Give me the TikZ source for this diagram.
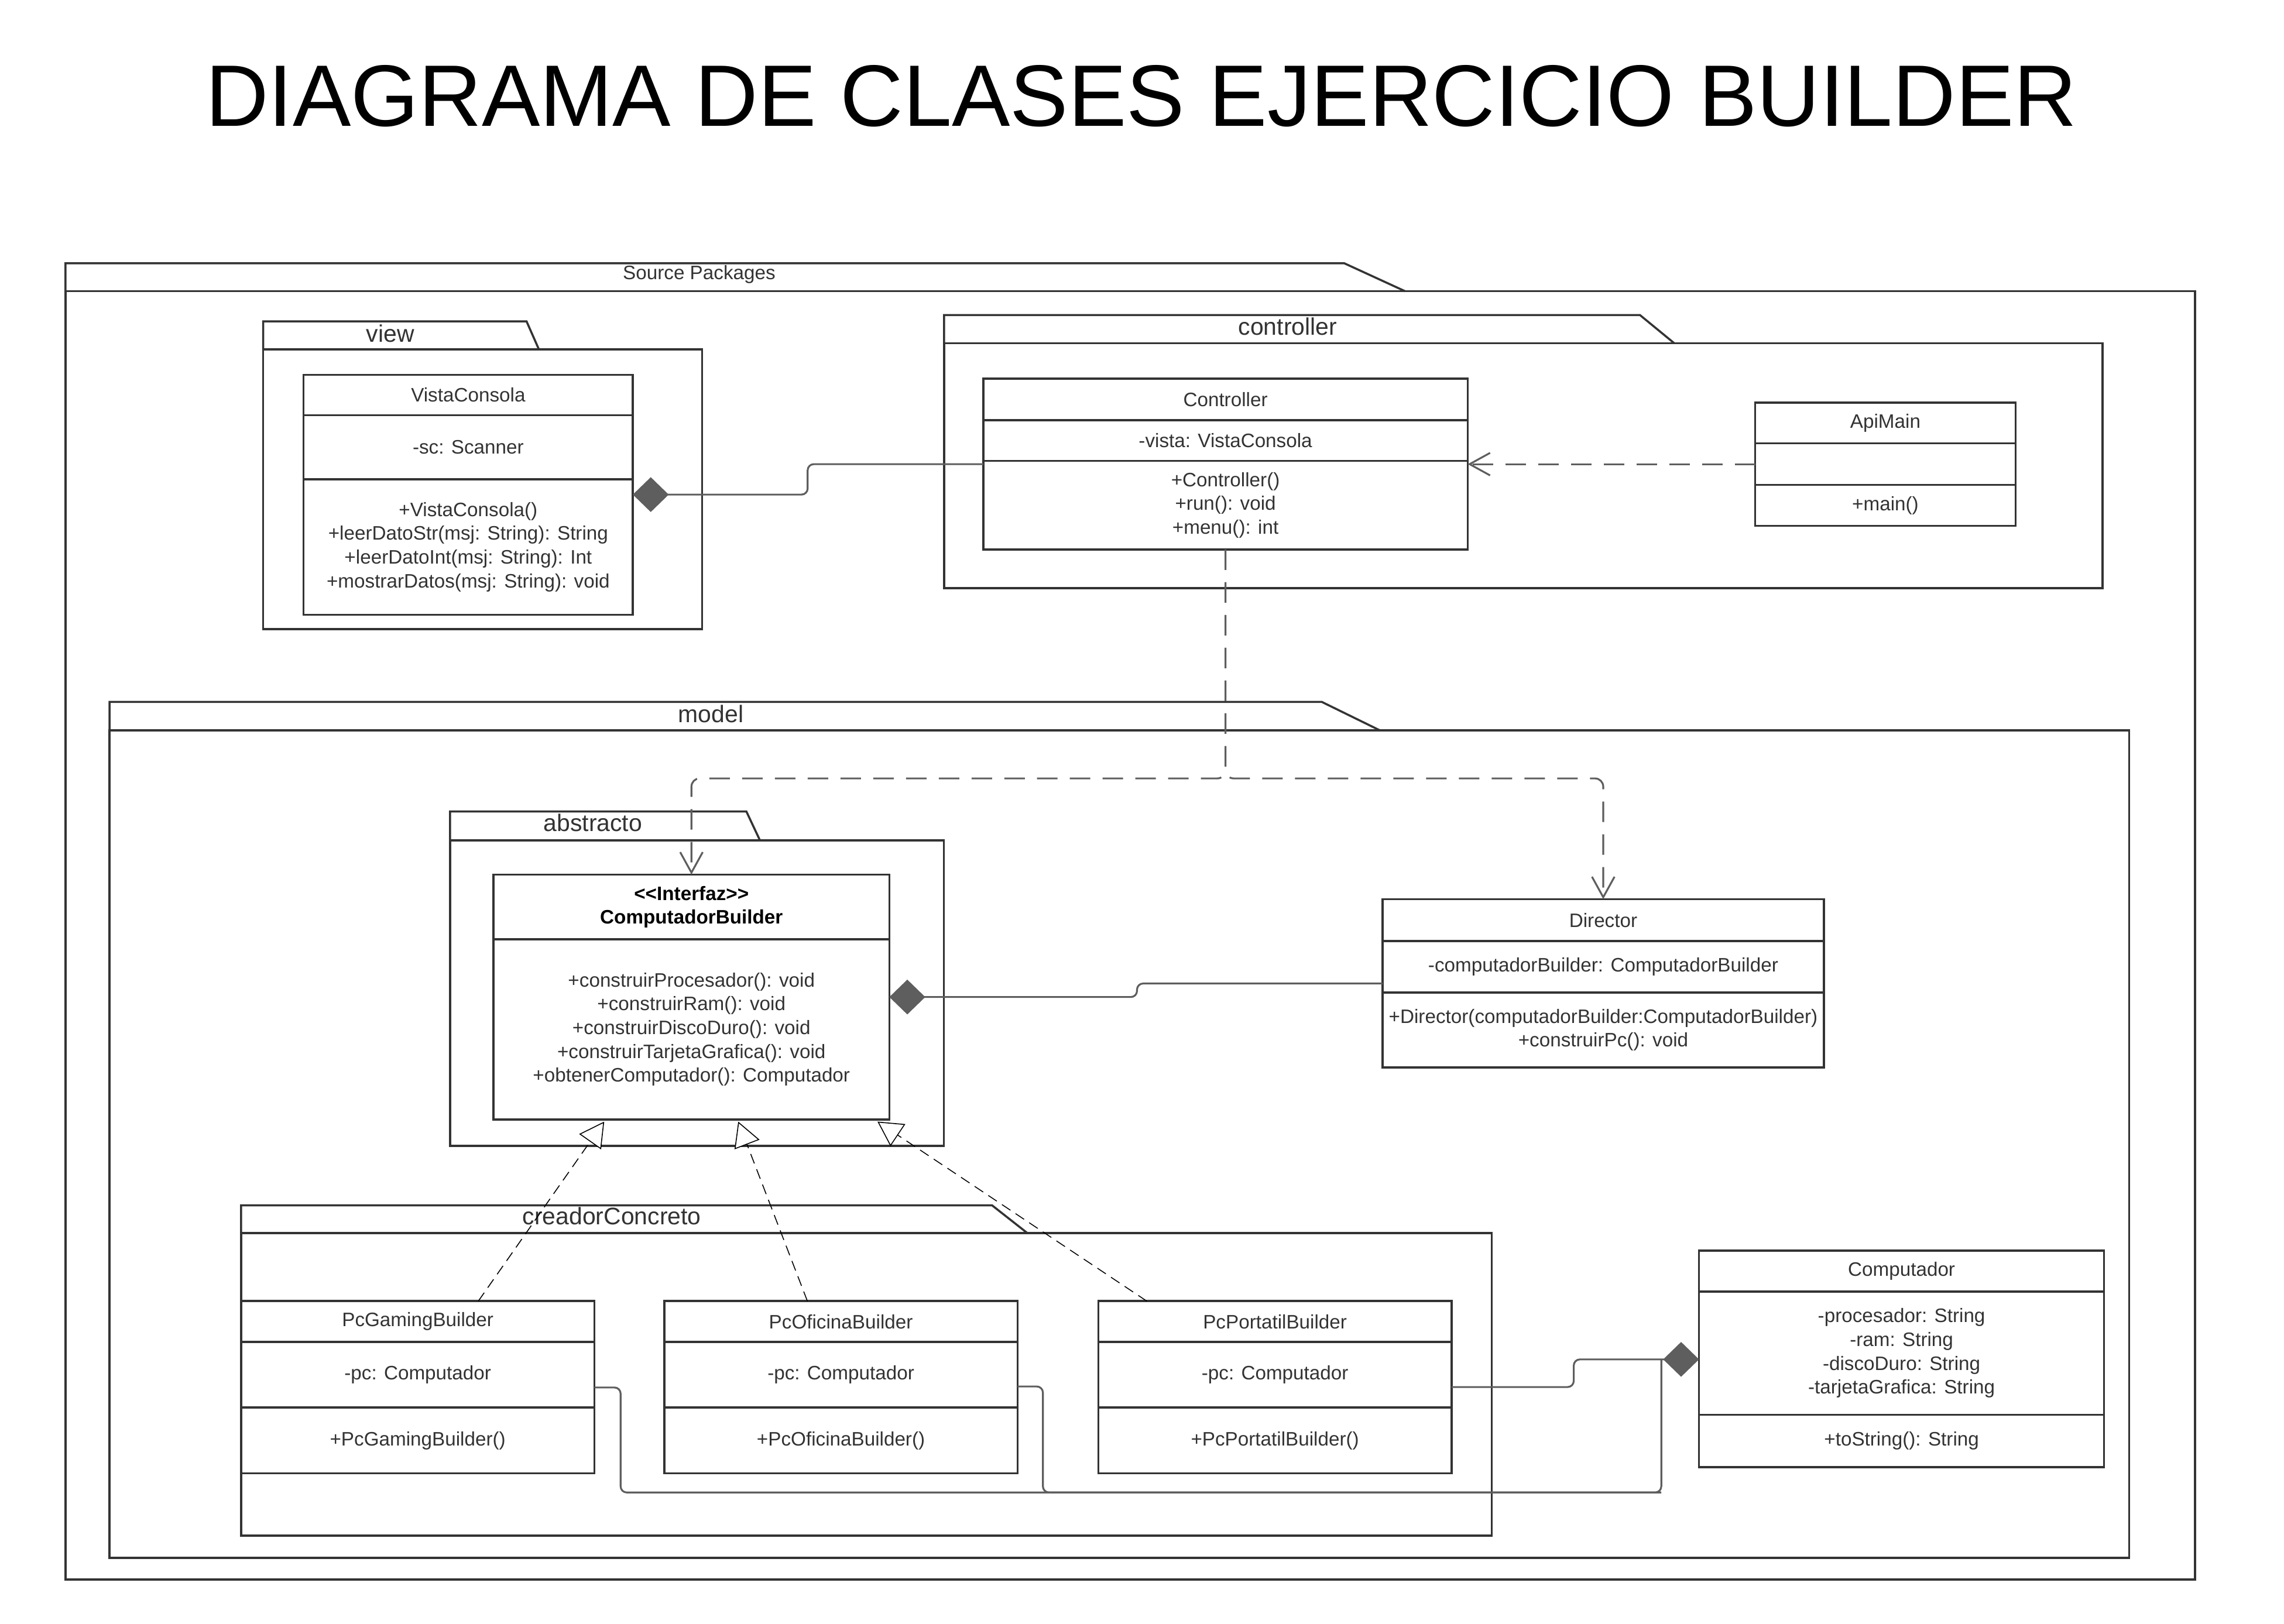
\documentclass[tikz,border=0pt]{standalone}
\usepackage{fontspec}
\setmainfont{Liberation Sans}
\usetikzlibrary{arrows.meta,calc}
\definecolor{linec}{HTML}{333333}
\definecolor{connc}{HTML}{5E5E5E}
\definecolor{txtc}{HTML}{333333}
\newcommand\clsfont{\fontsize{9.5pt}{11.6pt}\selectfont}
\newcommand\lblfont{\fontsize{11.7pt}{14pt}\selectfont}
\newcommand\titlefont{\fontsize{42.6pt}{50pt}\selectfont}

\begin{document}
\begin{tikzpicture}[x=0.025cm,y=-0.025cm,
  pkg/.style={draw=linec,line width=1pt},
  lbl/.style={font=\lblfont,text=txtc,inner sep=0pt},
  cls/.style={draw=linec,line width=1pt,outer sep=0pt,inner sep=1.5pt,align=center,
    anchor=north west,font=\clsfont,text=txtc},
  comp/.style={draw=connc,line width=0.9pt,rounded corners=3pt,
    {Diamond[length=17.5pt,width=17pt]}-},
  assoc/.style={draw=connc,line width=0.9pt,rounded corners=3pt},
  dep/.style={draw=connc,line width=0.9pt,rounded corners=4pt,dash pattern=on 10pt off 6pt,
    -{Straight Barb[length=10pt,width=11pt]}},
  real/.style={draw=black,line width=0.45pt,dash pattern=on 5pt off 3pt,
    -{Triangle[fill=white,length=12pt,width=13pt]}}]
  \useasboundingbox[fill=white] (0,0) rectangle (1568,1115);

  \node[font=\titlefont,text=black] (title) at (783.5,66) {DIAGRAMA DE CLASES EJERCICIO BUILDER};

  % packages
  \draw[pkg] (45,200) |- (922.9,180.8) -- (964.7,200);
  \draw[pkg] (45,200) rectangle (1507,1084.6);
  \node[font=\clsfont,text=txtc] (src-lbl) at (480,188.5) {Source Packages};

  \draw[pkg] (180.7,240) |- (361.5,220.7) -- (370,240);
  \draw[pkg] (180.7,240) rectangle (482,432);
  \node[lbl] (view-lbl) at (268,229) {view};

  \draw[pkg] (648.1,235.6) |- (1125.8,216.3) -- (1149.3,235.6);
  \draw[pkg] (648.1,235.6) rectangle (1443.5,403.9);
  \node[lbl] (ctl-lbl) at (884,224) {controller};

  \draw[pkg] (75.2,501.6) |- (907.5,482) -- (947.5,501.6);
  \draw[pkg] (75.2,501.6) rectangle (1461.6,1069.7);
  \node[lbl] (mdl-lbl) at (488,490) {model};

  \draw[pkg] (309,577) |- (512.4,557.2) -- (521.7,577);
  \draw[pkg] (309,577) rectangle (647.9,786.9);
  \node[lbl] (abs-lbl) at (407,565) {abstracto};

  \draw[pkg] (165.5,846.7) |- (681,827.6) -- (705.3,846.7);
  \draw[pkg] (165.5,846.7) rectangle (1024,1054.5);
  \node[lbl] (cc-lbl) at (420,835) {creadorConcreto};

  % classes
  \node[cls,minimum width=5.65cm,minimum height=0.6975cm] (vc-nm) at (208.4,257.3) {VistaConsola};
  \node[cls,minimum width=5.65cm,minimum height=1.0975cm] (vc-at) at (vc-nm.south west) {-sc: Scanner};
  \node[cls,minimum width=5.65cm,minimum height=2.3225cm] (vc-op) at (vc-at.south west)
    {+VistaConsola()\\+leerDatoStr(msj: String): String\\+leerDatoInt(msj: String): Int\\+mostrarDatos(msj: String): void};

  \node[cls,minimum width=8.3125cm,minimum height=0.7125cm] (ct-nm) at (675,260) {Controller};
  \node[cls,minimum width=8.3125cm,minimum height=0.6975cm] (ct-at) at (ct-nm.south west) {-vista: VistaConsola};
  \node[cls,minimum width=8.3125cm,minimum height=1.5225cm] (ct-op) at (ct-at.south west)
    {+Controller()\\+run(): void\\+menu(): int};

  \node[cls,minimum width=4.465cm,minimum height=0.6975cm] (am-nm) at (1205,276.5) {ApiMain};
  \node[cls,minimum width=4.465cm,minimum height=0.715cm] (am-at) at (am-nm.south west) {};
  \node[cls,minimum width=4.465cm,minimum height=0.7cm] (am-op) at (am-at.south west) {+main()};

  \node[cls,font=\clsfont\bfseries,text=black,minimum width=6.7925cm,minimum height=1.1125cm] (cb-nm)
    at (338.8,600.5) {<{}<Interfaz>{}>\\ComputadorBuilder};
  \node[cls,minimum width=6.7925cm,minimum height=3.09cm] (cb-op) at (cb-nm.south west)
    {+construirProcesador(): void\\+construirRam(): void\\+construirDiscoDuro(): void\\+construirTarjetaGrafica(): void\\+obtenerComputador(): Computador};

  \node[cls,minimum width=7.57cm,minimum height=0.7175cm] (dir-nm) at (949.2,617.4) {Director};
  \node[cls,minimum width=7.57cm,minimum height=0.885cm] (dir-at) at (dir-nm.south west) {-computadorBuilder: ComputadorBuilder};
  \node[cls,minimum width=7.57cm,minimum height=1.2875cm] (dir-op) at (dir-at.south west)
    {+Director(computadorBuilder:ComputadorBuilder)\\+construirPc(): void};

  \node[cls,minimum width=6.95cm,minimum height=0.7025cm] (cp-nm) at (1166.4,858.7) {Computador};
  \node[cls,minimum width=6.95cm,minimum height=2.115cm] (cp-at) at (cp-nm.south west)
    {-procesador: String\\-ram: String\\-discoDuro: String\\-tarjetaGrafica: String};
  \node[cls,minimum width=6.95cm,minimum height=0.9cm] (cp-op) at (cp-at.south west) {+toString(): String};

  \node[cls,minimum width=6.0625cm,minimum height=0.7025cm] (pg-nm) at (165.5,893.4) {PcGamingBuilder};
  \node[cls,minimum width=6.0625cm,minimum height=1.125cm] (pg-at) at (pg-nm.south west) {-pc: Computador};
  \node[cls,minimum width=6.0625cm,minimum height=1.13cm] (pg-op) at (pg-at.south west) {+PcGamingBuilder()};

  \node[cls,minimum width=6.0625cm,minimum height=0.7025cm] (po-nm) at (456,893.4) {PcOficinaBuilder};
  \node[cls,minimum width=6.0625cm,minimum height=1.125cm] (po-at) at (po-nm.south west) {-pc: Computador};
  \node[cls,minimum width=6.0625cm,minimum height=1.13cm] (po-op) at (po-at.south west) {+PcOficinaBuilder()};

  \node[cls,minimum width=6.0625cm,minimum height=0.7025cm] (pp-nm) at (754,893.4) {PcPortatilBuilder};
  \node[cls,minimum width=6.0625cm,minimum height=1.125cm] (pp-at) at (pp-nm.south west) {-pc: Computador};
  \node[cls,minimum width=6.0625cm,minimum height=1.13cm] (pp-op) at (pp-at.south west) {+PcPortatilBuilder()};

  % relations
  \draw[comp] ($(vc-op.north east)+(0,10.5)$) -- ++(120,0) |- ($(ct-op.north west)+(0,2.3)$);
  \draw[dep] (am-at.west) -- (am-at.west -| ct-op.east);

  \coordinate (split) at (ct-op.south |- 0,534.5);
  \draw[dep] (ct-op.south) -- (split) -| (cb-nm.north);
  \draw[dep] (ct-op.south) -- (split) -| (dir-nm.north);

  \draw[comp] ($(cb-op.north east)+(0,39.6)$) -- ++(170,0) |- ($(dir-op.north west)+(0,-6.2)$);

  \draw[real] ($(pg-nm.north)+(41.6,0)$) -- ($(cb-op.south west)+(76,1.5)$);
  \draw[real] ($(po-nm.north)+(-23,0)$) -- ($(cb-op.south west)+(168,1.5)$);
  \draw[real] ($(pp-nm.north)+(-88,0)$) -- ($(cb-op.south west)+(263.6,1.5)$);

  \coordinate (cpd) at ($(cp-at.west)+(0,4.3)$);
  \draw[comp] (cpd) -- ++(-86,0) |- ($(pp-at.east)+(0,8.4)$);
  \draw[assoc] ($(pg-at.east)+(0,8.7)$) -- ++(18,0) |- ($(cpd)+(-25.9,91.4)$) -- ($(cpd)+(-25.9,0)$);
  \draw[assoc] ($(po-at.east)+(0,8)$) -- ++(17.4,0) |- ($(cpd)+(-25.9,91.4)$);
\end{tikzpicture}
\end{document}
